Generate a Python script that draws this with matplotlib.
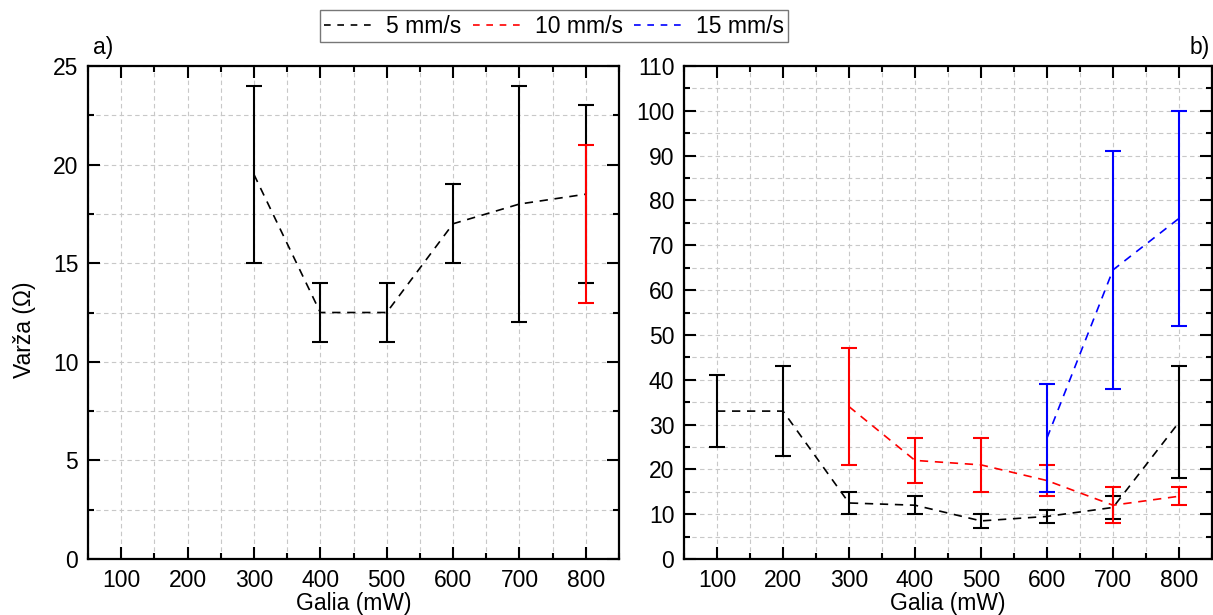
import matplotlib
matplotlib.use("Agg")
import matplotlib.pyplot as plt
from matplotlib.lines import Line2D
from matplotlib.ticker import MultipleLocator

plt.rcParams['font.family'] = ['Liberation Sans', 'DejaVu Sans']

# ---- data ----
power = [100, 200, 300, 400, 500, 600, 700, 800]

# panel a)
a5_x = [300, 400, 500, 600, 700, 800]
a5_y = [19.5, 12.5, 12.5, 17.0, 18.0, 18.5]
a5_lo = [15, 11, 11, 15, 12, 14]
a5_hi = [24, 14, 14, 19, 24, 23]

a10_x = [800]
a10_y = [17.0]
a10_lo = [13]
a10_hi = [21]

# panel b)
b5_x = [100, 200, 300, 400, 500, 600, 700, 800]
b5_y = [33, 33, 12.5, 12, 8.5, 9.5, 11.5, 30.5]
b5_lo = [25, 23, 10, 10, 7, 8, 9, 18]
b5_hi = [41, 43, 15, 14, 10, 11, 14, 43]

b10_x = [300, 400, 500, 600, 700, 800]
b10_y = [34, 22, 21, 17.5, 12, 14]
b10_lo = [21, 17, 15, 14, 8, 12]
b10_hi = [47, 27, 27, 21, 16, 16]

b15_x = [600, 700, 800]
b15_y = [27, 64.5, 76]
b15_lo = [15, 38, 52]
b15_hi = [39, 91, 100]

labels = ['5 mm/s', '10 mm/s', '15 mm/s']
colors = ['black', 'red', 'blue']

FS = 16.5
W, H = 1213, 615
fig = plt.figure(figsize=(W / 100, H / 100), dpi=100)

def px_axes(x0, x1, ytop, ybot):
    return fig.add_axes([x0 / W, 1 - ybot / H, (x1 - x0) / W, (ybot - ytop) / H])

ax1 = px_axes(88, 619, 66, 559)
ax2 = px_axes(684, 1212, 66, 559)

dash = (0, (5, 4))

def series(ax, x, y, lo, hi, color, line=True):
    if line and len(x) > 1:
        ax.plot(x, y, linestyle=dash, color=color, lw=1.2, zorder=3)
    yerr = [[yy - l for yy, l in zip(y, lo)], [h - yy for yy, h in zip(y, hi)]]
    ax.errorbar(x, y, yerr=yerr, fmt='none', ecolor=color, elinewidth=1.5,
                capsize=6, capthick=1.5, zorder=4)

series(ax1, a5_x, a5_y, a5_lo, a5_hi, colors[0])
series(ax1, a10_x, a10_y, a10_lo, a10_hi, colors[1], line=False)

series(ax2, b5_x, b5_y, b5_lo, b5_hi, colors[0])
series(ax2, b10_x, b10_y, b10_lo, b10_hi, colors[1])
series(ax2, b15_x, b15_y, b15_lo, b15_hi, colors[2])

for ax, ymax, ymaj, ymin in [(ax1, 25, 5, 2.5), (ax2, 110, 10, 5)]:
    ax.set_xlim(50, 850)
    ax.set_ylim(0, ymax)
    ax.set_xticks(power)
    ax.xaxis.set_minor_locator(MultipleLocator(50))
    ax.yaxis.set_major_locator(MultipleLocator(ymaj))
    ax.yaxis.set_minor_locator(MultipleLocator(ymin))
    ax.tick_params(which='both', direction='in', top=True, right=True,
                   labelsize=FS, width=1.5, pad=7)
    ax.tick_params(which='major', length=8.5)
    ax.tick_params(which='minor', length=4.3)
    for s in ax.spines.values():
        s.set_linewidth(1.6)
    ax.grid(True, which='both', color='#c8c8c8', linestyle=(0, (4, 3)), lw=0.8)
    ax.set_axisbelow(True)
    ax.set_xlabel('Galia (mW)', fontsize=FS, labelpad=0)

ax1.set_ylabel('Varža (Ω)', fontsize=FS)
ax1.yaxis.set_label_coords(-0.098, 0.4645)
ax1.text(0.01, 1.015, 'a)', transform=ax1.transAxes, fontsize=FS, ha='left', va='bottom')
ax2.text(0.995, 1.015, 'b)', transform=ax2.transAxes, fontsize=FS, ha='right', va='bottom')

handles = [Line2D([], [], color=c, linestyle=(0, (4, 4)), lw=1.2) for c in colors]
leg = fig.legend(handles, labels, loc='upper center', bbox_to_anchor=(554 / W, 1 - 10 / H),
                 ncol=3, fontsize=FS, frameon=True, fancybox=False, handlelength=2.3,
                 handletextpad=0.4, columnspacing=0.5, borderpad=0.2, borderaxespad=0)
leg.get_frame().set_edgecolor('#555555')
leg.get_frame().set_linewidth(1.0)

fig.savefig('out.png', dpi=100)
